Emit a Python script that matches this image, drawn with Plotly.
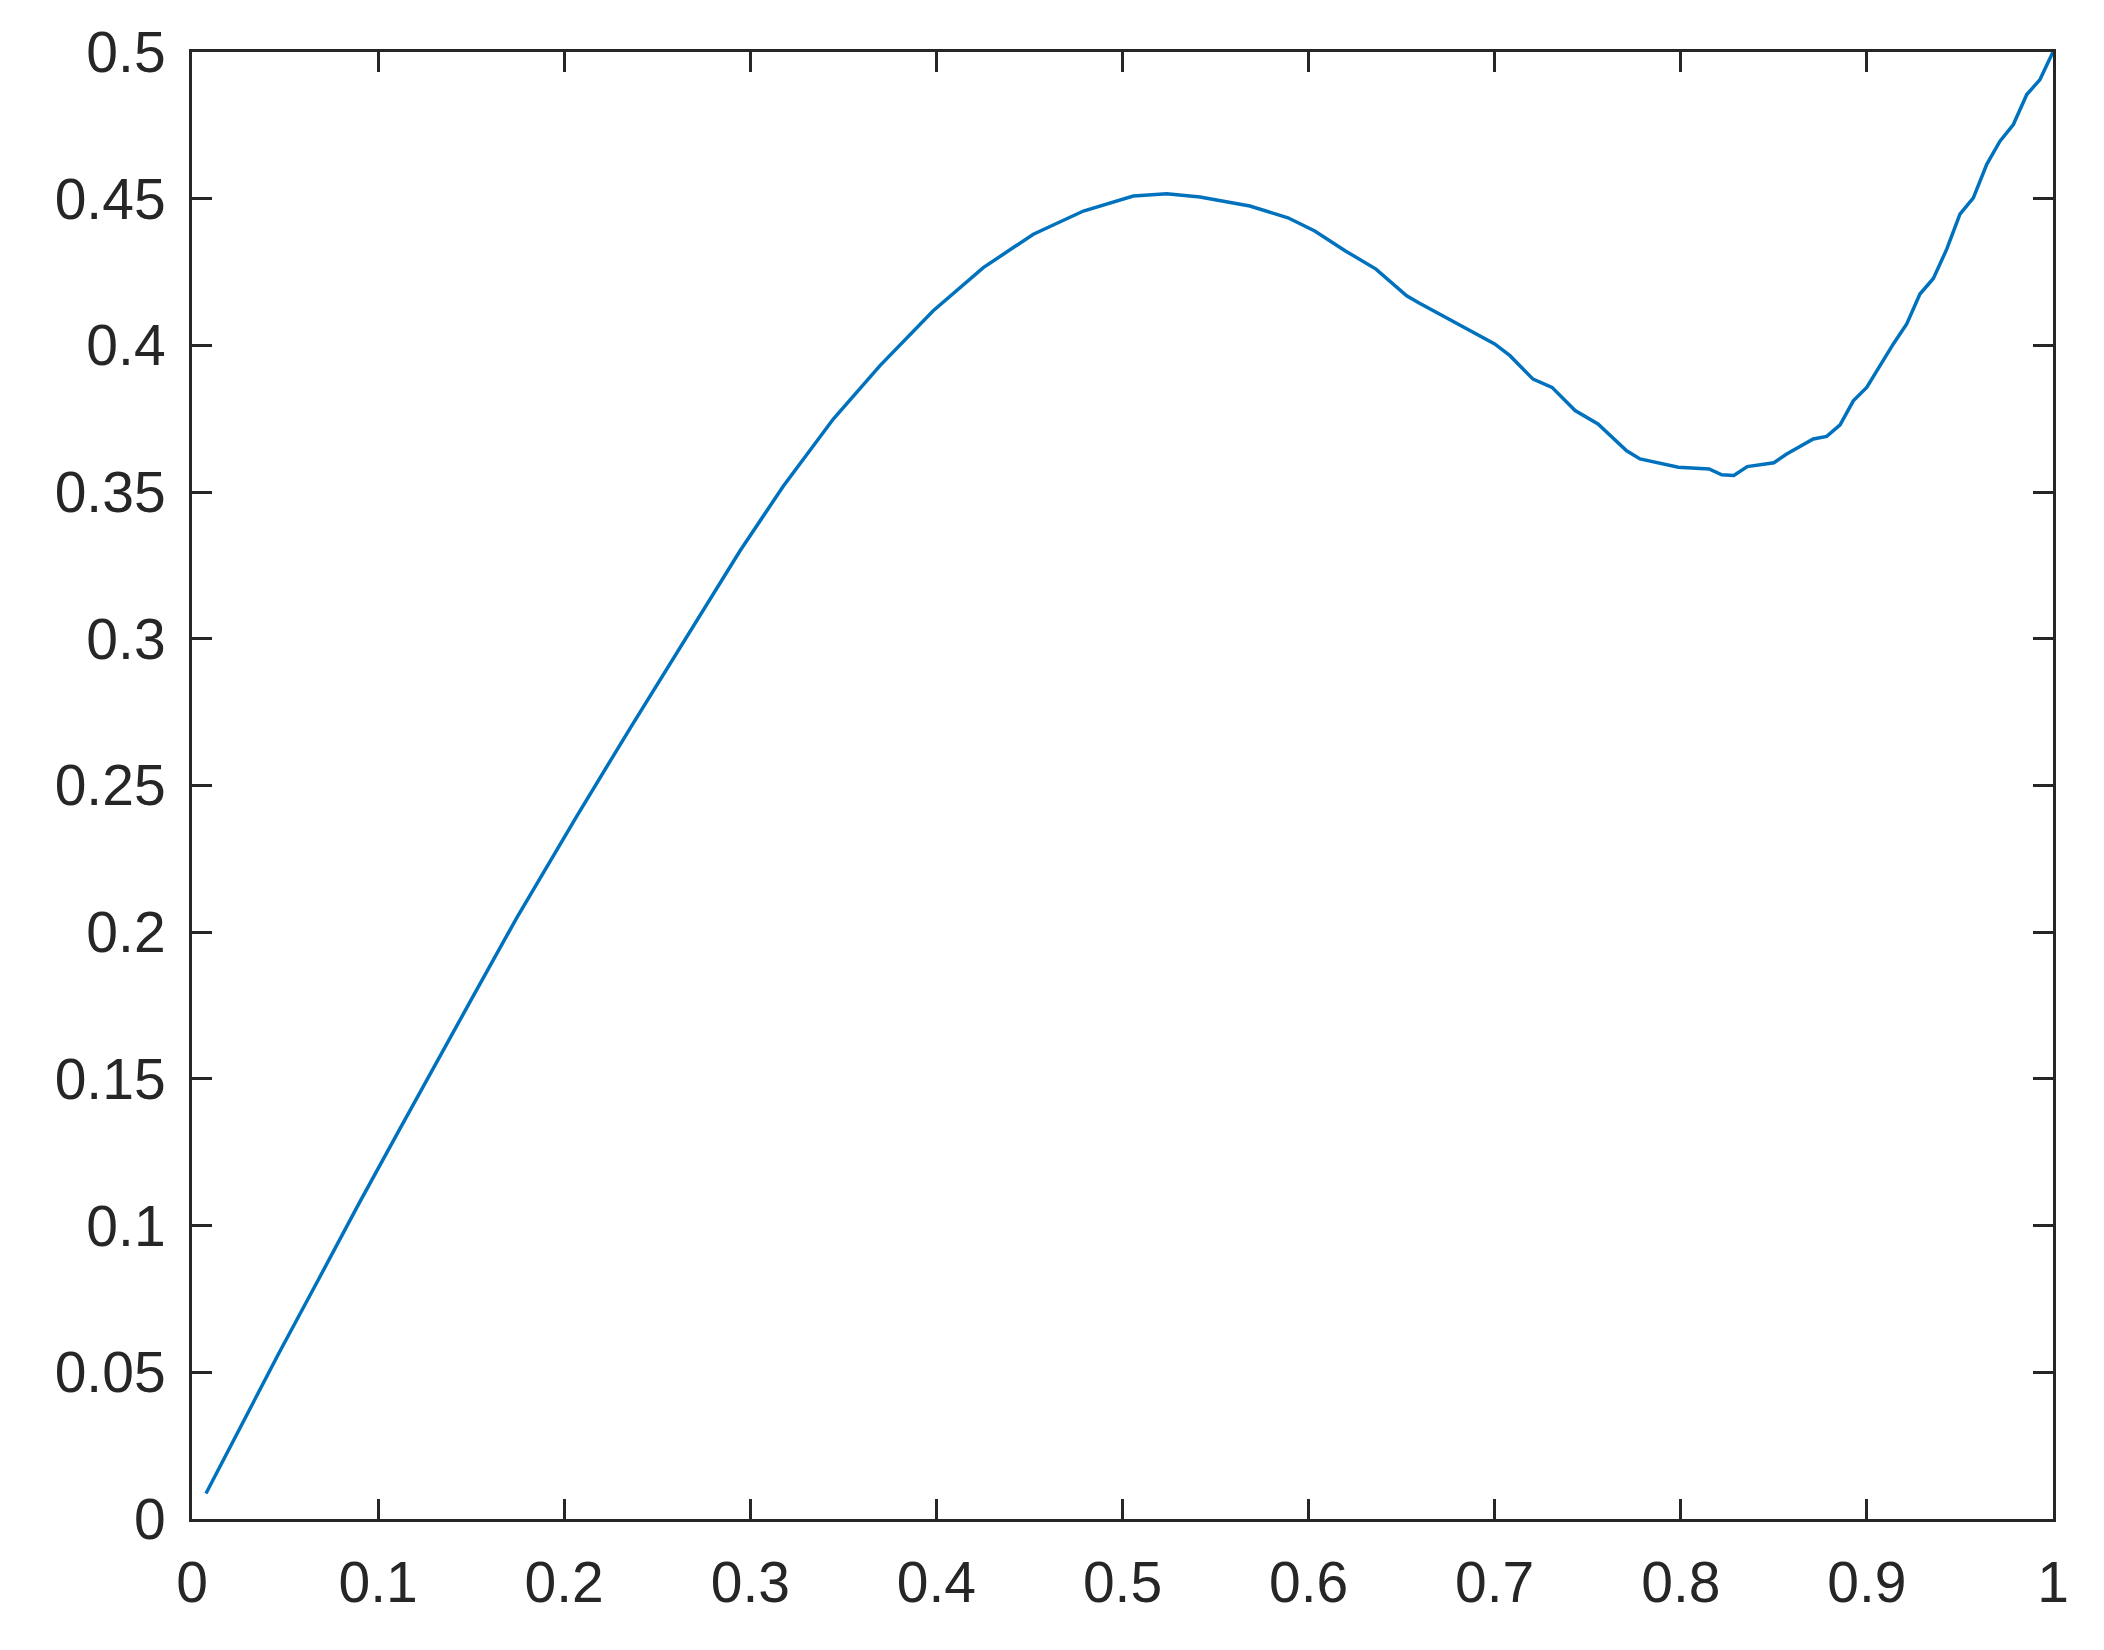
import plotly.graph_objects as go

# curve
x_vals = [0.0075, 0.0269, 0.0466, 0.0681, 0.0896, 0.1111, 0.1326, 0.1496, 0.1745,
          0.2067, 0.2354, 0.2640, 0.2945, 0.3177, 0.3446, 0.3697, 0.3983, 0.4252,
          0.4521, 0.4790, 0.5058, 0.5238, 0.5416, 0.5684, 0.5889, 0.6033, 0.6198,
          0.6362, 0.6527, 0.6589, 0.6856, 0.7000, 0.7082, 0.7206, 0.7308, 0.7432,
          0.7555, 0.7709, 0.7781, 0.7987, 0.8152, 0.8220, 0.8285, 0.8357, 0.8500,
          0.8569, 0.8712, 0.8784, 0.8856, 0.8927, 0.8999, 0.9070, 0.9142, 0.9214,
          0.9285, 0.9357, 0.9429, 0.9500, 0.9572, 0.9644, 0.9715, 0.9787, 0.9859,
          0.9930, 1.0]
y_vals = [0.0087, 0.0326, 0.0564, 0.0818, 0.1074, 0.1323, 0.1572, 0.1765, 0.2049,
          0.2395, 0.2695, 0.2990, 0.3300, 0.3520, 0.3749, 0.3931, 0.4118, 0.4265,
          0.4379, 0.4458, 0.4509, 0.4517, 0.4506, 0.4475, 0.4435, 0.4390, 0.4322,
          0.4260, 0.4169, 0.4146, 0.4055, 0.4005, 0.3965, 0.3885, 0.3857, 0.3778,
          0.3732, 0.3641, 0.3613, 0.3585, 0.3579, 0.3559, 0.3557, 0.3587, 0.3600,
          0.3630, 0.3681, 0.3690, 0.3729, 0.3811, 0.3857, 0.3931, 0.4005, 0.4073,
          0.4175, 0.4228, 0.4328, 0.4447, 0.4503, 0.4617, 0.4696, 0.4753, 0.4855,
          0.4906, 0.5]

x_ticks = [0, 0.1, 0.2, 0.3, 0.4, 0.5, 0.6, 0.7, 0.8, 0.9, 1]
x_labels = ["0", "0.1", "0.2", "0.3", "0.4", "0.5", "0.6", "0.7", "0.8", "0.9", "1"]
y_ticks = [0, 0.05, 0.1, 0.15, 0.2, 0.25, 0.3, 0.35, 0.4, 0.45, 0.5]
y_labels = ["0", "0.05", "0.1", "0.15", "0.2", "0.25", "0.3", "0.35", "0.4", "0.45", "0.5"]

fig = go.Figure()
fig.add_trace(go.Scatter(x=x_vals, y=y_vals, mode="lines",
                         line=dict(color="#0072BD", width=3.5), showlegend=False))

axis_style = dict(showline=True, linecolor="#262626", linewidth=3, mirror="ticks",
                  ticks="inside", ticklen=20, tickwidth=3, tickcolor="#262626",
                  showgrid=False, zeroline=False, ticklabelstandoff=12,
                  tickfont=dict(family="Liberation Sans, Arial", size=57, color="#262626"))

fig.update_xaxes(range=[0, 1], tickvals=x_ticks, ticktext=x_labels, **axis_style)
fig.update_yaxes(range=[0, 0.5], tickvals=y_ticks, ticktext=y_labels, **axis_style)

# page body adds ~8px offset, so the figure is sized to fit inside the window
fig.update_layout(width=2088, height=1634, plot_bgcolor="white", paper_bgcolor="white",
                  margin=dict(l=184, r=43, t=41, b=123))

fig.write_html("out.html")
